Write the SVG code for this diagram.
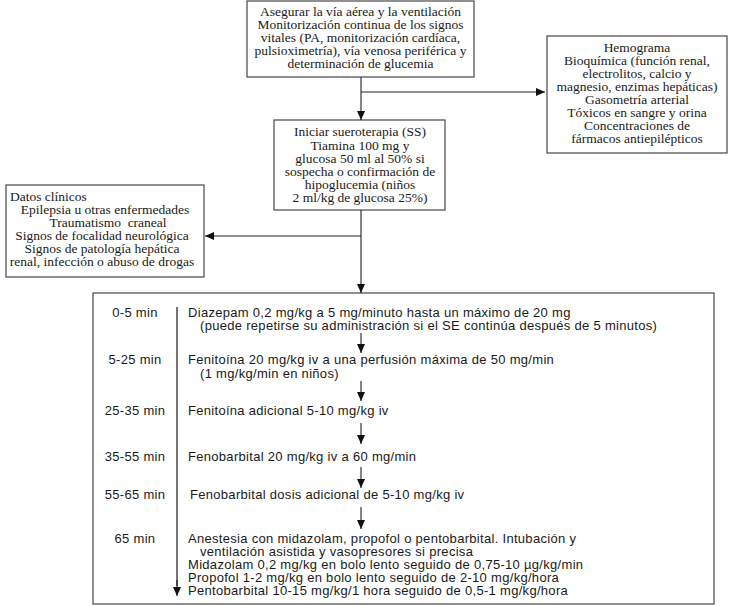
<svg xmlns="http://www.w3.org/2000/svg" width="729" height="606" viewBox="0 0 729 606">
<style>
.box{fill:#fff;stroke:#555;stroke-width:1.3}
.t{font-family:"Liberation Serif",serif;font-size:13.5px;fill:#1a1a1a}
.c{text-anchor:middle}
.s{font-family:"Liberation Sans",sans-serif;font-size:13px;letter-spacing:0.3px;fill:#1a1a1a}
.ln{stroke:#222;stroke-width:1.1;fill:none}
.tl{stroke:#666;stroke-width:1.8;fill:none}
</style>
<defs>
<marker id="ah" markerWidth="10" markerHeight="10" refX="9" refY="4" orient="auto" markerUnits="userSpaceOnUse">
<path d="M0,0 L9,4 L0,8 Z" fill="#111"/>
</marker>
</defs>
<rect width="729" height="606" fill="#fff"/>
<g id="n1">
<rect class="box" x="247" y="1" width="227" height="76"/>
<text class="t c" x="360.5" y="16">Asegurar la vía aérea y la ventilación</text>
<text class="t c" x="360.5" y="29">Monitorización continua de los signos</text>
<text class="t c" x="360.5" y="42">vitales (PA, monitorización cardíaca,</text>
<text class="t c" x="360.5" y="55">pulsioximetría), vía venosa periférica y</text>
<text class="t c" x="360.5" y="68">determinación de glucemia</text>
</g>
<g id="n2">
<rect class="box" x="547" y="36" width="180" height="117"/>
<text class="t c" x="637" y="52">Hemograma</text>
<text class="t c" x="637" y="65">Bioquímica (función renal,</text>
<text class="t c" x="637" y="78">electrolitos, calcio y</text>
<text class="t c" x="637" y="91">magnesio, enzimas hepáticas)</text>
<text class="t c" x="637" y="104">Gasometría arterial</text>
<text class="t c" x="637" y="117">Tóxicos en sangre y orina</text>
<text class="t c" x="637" y="130">Concentraciones de</text>
<text class="t c" x="637" y="143">fármacos antiepilépticos</text>
</g>
<g id="n3">
<rect class="box" x="274" y="120" width="171" height="90"/>
<text class="t c" x="360" y="136">Iniciar sueroterapia (SS)</text>
<text class="t c" x="360" y="150">Tiamina 100 mg y</text>
<text class="t c" x="360" y="163">glucosa 50 ml al 50% si</text>
<text class="t c" x="360" y="176">sospecha o confirmación de</text>
<text class="t c" x="360" y="189">hipoglucemia (niños</text>
<text class="t c" x="360" y="202">2 ml/kg de glucosa 25%)</text>
</g>
<g id="n4">
<rect class="box" x="6" y="185" width="198" height="92"/>
<text class="t" x="10" y="201">Datos clínicos</text>
<text class="t c" x="105" y="214">Epilepsia u otras enfermedades</text>
<text class="t c" x="108" y="227" xml:space="preserve">Traumatismo  craneal</text>
<text class="t c" x="102" y="240">Signos de focalidad neurológica</text>
<text class="t c" x="102" y="253">Signos de patología hepática</text>
<text class="t c" x="102" y="266">renal, infección o abuso de drogas</text>
</g>
<g id="n5">
<rect class="box" x="93" y="293" width="621" height="311"/>
<text class="s c" x="135" y="317">0-5 min</text>
<text class="s" x="188" y="317">Diazepam 0,2 mg/kg a 5 mg/minuto hasta un máximo de 20 mg</text>
<text class="s" x="200" y="330">(puede repetirse su administración si el SE continúa después de 5 minutos)</text>
<text class="s c" x="135" y="364">5-25 min</text>
<text class="s" x="188" y="364">Fenitoína 20 mg/kg iv a una perfusión máxima de 50 mg/min</text>
<text class="s" x="200" y="378">(1 mg/kg/min en niños)</text>
<text class="s c" x="135" y="415">25-35 min</text>
<text class="s" x="188" y="415">Fenitoína adicional 5-10 mg/kg iv</text>
<text class="s c" x="135" y="461">35-55 min</text>
<text class="s" x="188" y="461">Fenobarbital 20 mg/kg iv a 60 mg/min</text>
<text class="s c" x="135" y="499">55-65 min</text>
<text class="s" x="190" y="499">Fenobarbital dosis adicional de 5-10 mg/kg iv</text>
<text class="s c" x="135" y="543">65 min</text>
<text class="s" x="188" y="543">Anestesia con midazolam, propofol o pentobarbital. Intubación y</text>
<text class="s" x="200" y="556">ventilación asistida y vasopresores si precisa</text>
<text class="s" x="188" y="569">Midazolam 0,2 mg/kg en bolo lento seguido de 0,75-10 µg/kg/min</text>
<text class="s" x="188" y="582">Propofol 1-2 mg/kg en bolo lento seguido de 2-10 mg/kg/hora</text>
<text class="s" x="188" y="595">Pentobarbital 10-15 mg/kg/1 hora seguido de 0,5-1 mg/kg/hora</text>
</g>
<g id="connectors">
<line class="ln" x1="361" y1="77" x2="361" y2="120" marker-end="url(#ah)"/>
<line class="ln" x1="361" y1="92" x2="545" y2="92" marker-end="url(#ah)"/>
<line class="ln" x1="361" y1="210" x2="361" y2="293" marker-end="url(#ah)"/>
<line class="ln" x1="361" y1="236" x2="205" y2="236" marker-end="url(#ah)"/>
<line class="ln" x1="361" y1="333" x2="361" y2="353" marker-end="url(#ah)"/>
<line class="ln" x1="361" y1="381" x2="361" y2="401" marker-end="url(#ah)"/>
<line class="ln" x1="361" y1="423" x2="361" y2="444" marker-end="url(#ah)"/>
<line class="ln" x1="361" y1="467" x2="361" y2="488" marker-end="url(#ah)"/>
<line class="ln" x1="361" y1="507" x2="361" y2="529" marker-end="url(#ah)"/>
<line class="tl" x1="177" y1="307" x2="177" y2="586"/>
<line class="ln" x1="177" y1="580" x2="177" y2="596" marker-end="url(#ah)"/>
</g>
</svg>
